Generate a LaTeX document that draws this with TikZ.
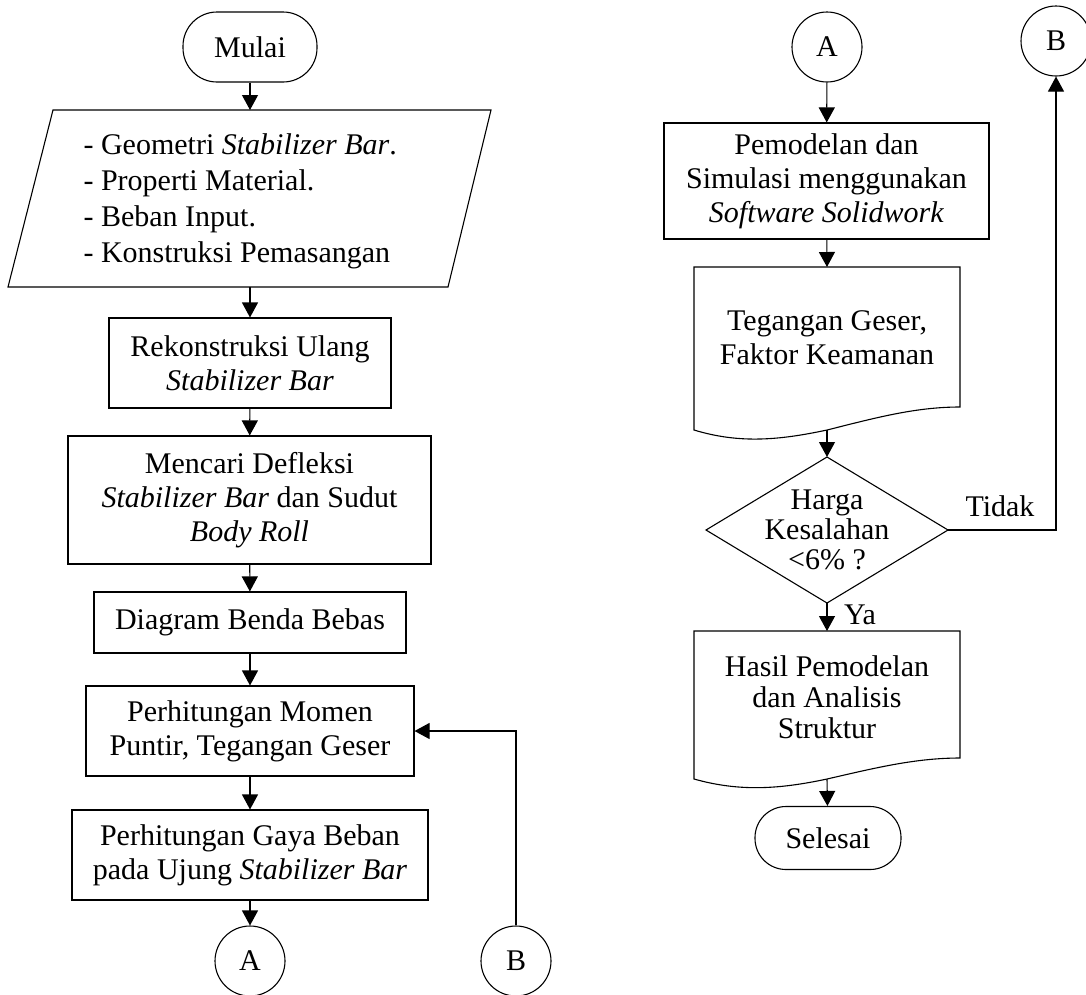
\documentclass[tikz,border=0pt]{standalone}
\usepackage{fontspec}
\setmainfont{Liberation Serif}
\usetikzlibrary{arrows.meta,shapes.geometric}
\begin{document}
\begin{tikzpicture}[x=1pt,y=-1pt,line width=1.1pt,
  every node/.style={font=\fontsize{30}{34}\selectfont,inner sep=0pt},
  box/.style={draw,rectangle,align=center},
  term/.style={draw,rectangle,align=center},
  conn/.style={draw,circle,minimum size=70pt},
  txt/.style={align=center},
  arr/.style={-{Triangle[length=15pt,width=16pt]}}]
\useasboundingbox (0,0) rectangle (1086,994);
\clip (0,0) rectangle (1086,994);

% ---------- left column ----------
\node[term,minimum width=134pt,minimum height=70pt,rounded corners=34pt] (start) at (250,47) {Mulai};

\coordinate (pin) at (250,110);
\coordinate (pout) at (250,287);
\draw (53,110) -- (491,110) -- (448,287) -- (8,287) -- cycle;
\node[anchor=west,align=left,font=\fontsize{30}{36}\selectfont] (inp) at (83,201)
  {- Geometri \textit{Stabilizer Bar}.\\- Properti Material.\\- Beban Input.\\- Konstruksi Pemasangan};

\node[box,minimum width=282pt,minimum height=90pt] (r1) at (250,363)
  {Rekonstruksi Ulang\\\textit{Stabilizer Bar}};
\node[box,minimum width=363pt,minimum height=128pt] (r2) at (249.5,500)
  {Mencari Defleksi\\\textit{Stabilizer Bar} dan Sudut\\\textit{Body Roll}};
\node[box,minimum width=312pt,minimum height=61pt] (r3) at (250,622.5)
  {Diagram Benda Bebas};
\node[box,minimum width=328pt,minimum height=90pt] (r4) at (250,731)
  {Perhitungan Momen\\Puntir, Tegangan Geser};
\node[box,minimum width=356pt,minimum height=90pt] (r5) at (250,855)
  {Perhitungan Gaya Beban\\pada Ujung \textit{Stabilizer Bar}};
\node[conn] (ca1) at (250,961) {A};
\node[conn] (cb1) at (516,961) {B};

\draw[arr] (start) -- (pin);
\draw[arr] (pout) -- (r1);
\draw[arr] (r1) -- (r2);
\draw[arr] (r2) -- (r3);
\draw[arr] (r3) -- (r4);
\draw[arr] (r4) -- (r5);
\draw[arr] (r5) -- (ca1);
\draw[arr] (cb1) |- (r4);

% ---------- right column ----------
\node[conn] (ca2) at (827,47) {A};
\node[conn] (cb2) at (1056,41) {B};
\node[box,minimum width=325pt,minimum height=116pt] (r6) at (826.5,181)
  {Pemodelan dan\\Simulasi menggunakan\\\textit{Software Solidwork}};

\coordinate (d1top) at (827,267);
\coordinate (d1out) at (827,430);
\draw (694,267) -- (960,267) -- (960,407)
  .. controls (915,407) and (875,418) .. (827,430)
  .. controls (780,440) and (740,444) .. (694,430) -- cycle;
\node[txt] (doc1) at (827,338) {Tegangan Geser,\\Faktor Keamanan};

\coordinate (dtop) at (827,457);
\coordinate (dright) at (948,530);
\coordinate (dbot) at (827,603);
\draw (dtop) -- (dright) -- (dbot) -- (706,530) -- cycle;
\node[txt,font=\fontsize{30}{30}\selectfont] (dec) at (827,530) {Harga\\Kesalahan\\<6\% ?};

\coordinate (d2top) at (827,631);
\coordinate (d2out) at (827,779);
\draw (694,631) -- (960,631) -- (960,758)
  .. controls (915,758) and (875,768) .. (827,779)
  .. controls (780,789) and (740,792) .. (694,779) -- cycle;
\node[txt,font=\fontsize{30}{31}\selectfont] (doc2) at (827,697) {Hasil Pemodelan\\dan Analisis\\Struktur};

\node[term,minimum width=146pt,minimum height=63pt,rounded corners=31pt] (stop) at (828,838) {Selesai};

\draw[arr] (ca2) -- (r6);
\draw[arr] (r6) -- (d1top);
\draw[arr] (d1out) -- (dtop);
\draw[arr] (dbot) -- (d2top);
\draw[arr] (dright) -| (cb2);
\draw[arr] (d2out) -- (stop);

\node (tidak) at (1000,506) {Tidak};
\node (ya) at (860,615) {Ya};
\end{tikzpicture}
\end{document}
